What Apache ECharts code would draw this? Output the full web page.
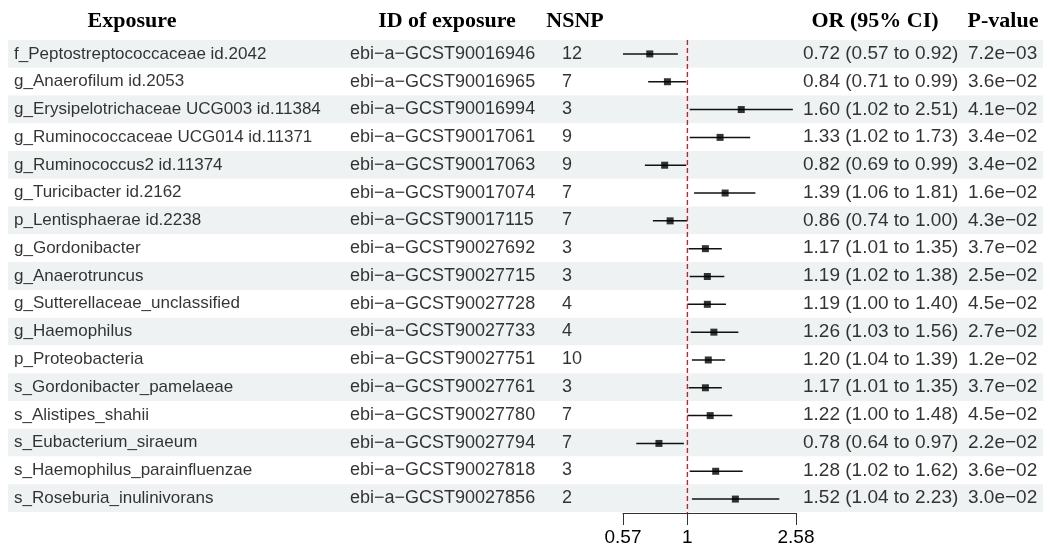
<!DOCTYPE html>
<html>
<head>
<meta charset="utf-8">
<script src="https://cdn.jsdelivr.net/npm/echarts@6/dist/echarts.min.js"></script>
<style>
  html, body { margin: 0; padding: 0; background: #fff; }
  #chart { width: 1051px; height: 548px; }
</style>
</head>
<body>
<div id="chart"></div>
<script>
const exposures = [
  'f_Peptostreptococcaceae id.2042',
  'g_Anaerofilum id.2053',
  'g_Erysipelotrichaceae UCG003 id.11384',
  'g_Ruminococcaceae UCG014 id.11371',
  'g_Ruminococcus2 id.11374',
  'g_Turicibacter id.2162',
  'p_Lentisphaerae id.2238',
  'g_Gordonibacter',
  'g_Anaerotruncus',
  'g_Sutterellaceae_unclassified',
  'g_Haemophilus',
  'p_Proteobacteria',
  's_Gordonibacter_pamelaeae',
  's_Alistipes_shahii',
  's_Eubacterium_siraeum',
  's_Haemophilus_parainfluenzae',
  's_Roseburia_inulinivorans'
]
const exposureIds = [
  'ebi−a−GCST90016946', 'ebi−a−GCST90016965', 'ebi−a−GCST90016994', 'ebi−a−GCST90017061',
  'ebi−a−GCST90017063', 'ebi−a−GCST90017074', 'ebi−a−GCST90017115', 'ebi−a−GCST90027692',
  'ebi−a−GCST90027715', 'ebi−a−GCST90027728', 'ebi−a−GCST90027733', 'ebi−a−GCST90027751',
  'ebi−a−GCST90027761', 'ebi−a−GCST90027780', 'ebi−a−GCST90027794', 'ebi−a−GCST90027818',
  'ebi−a−GCST90027856'
]
const nsnp = [12, 7, 3, 9, 9, 7, 7, 3, 3, 4, 4, 10, 3, 7, 7, 3, 2]
const orValues = [0.72, 0.84, 1.60, 1.33, 0.82, 1.39, 0.86, 1.17, 1.19, 1.19, 1.26, 1.20, 1.17, 1.22, 0.78, 1.28, 1.52]
const ciLow = [0.57, 0.71, 1.02, 1.02, 0.69, 1.06, 0.74, 1.01, 1.02, 1.00, 1.03, 1.04, 1.01, 1.00, 0.64, 1.02, 1.04]
const ciHigh = [0.92, 0.99, 2.51, 1.73, 0.99, 1.81, 1.00, 1.35, 1.38, 1.40, 1.56, 1.39, 1.35, 1.48, 0.97, 1.62, 2.23]
const pValues = [
  '7.2e−03', '3.6e−02', '4.1e−02', '3.4e−02', '3.4e−02', '1.6e−02', '4.3e−02', '3.7e−02',
  '2.5e−02', '4.5e−02', '2.7e−02', '1.2e−02', '3.7e−02', '4.5e−02', '2.2e−02', '3.6e−02', '3.0e−02'
]
const tickValues = [0.57, 1, 2.58]
const tickLabels = ['0.57', '1', '2.58']
const refValue = 1

const orText = orValues.map((v, i) =>
  `${v.toFixed(2)} (${ciLow[i].toFixed(2)} to ${ciHigh[i].toFixed(2)})`)

const textFont = 'Liberation Sans, Arial, sans-serif'
const headFont = 'Liberation Serif, Times New Roman, serif'

// text column: x is pixel position inside the full-width grid
function textColumn (x, texts, size) {
  return {
    type: 'scatter',
    xAxisIndex: 0,
    yAxisIndex: 0,
    symbolSize: 0,
    silent: true,
    data: texts.map((t, i) => [x, i]),
    label: {
      show: true,
      position: 'right',
      distance: 0,
      color: '#000',
      fontSize: size,
      fontFamily: textFont,
      formatter: p => texts[p.dataIndex]
    }
  }
}

function header (text, cx) {
  return {
    type: 'text',
    x: cx,
    y: 21,
    style: {
      text: text,
      align: 'center',
      verticalAlign: 'middle',
      fill: '#000',
      font: `bold 22px ${headFont}`
    }
  }
}

const chart = echarts.init(document.getElementById('chart'), null, { renderer: 'canvas' })
const logTicks = tickValues.map(v => Math.log(v))

chart.setOption({
  animation: false,
  backgroundColor: '#fff',
  grid: [
    { left: 8, right: 8, top: 40, bottom: 36 },
    { left: 623, right: 255, top: 40, bottom: 35 }
  ],
  xAxis: [
    { gridIndex: 0, type: 'value', min: 8, max: 1043, show: false },
    {
      gridIndex: 1,
      type: 'value',
      min: logTicks[0],
      max: logTicks[logTicks.length - 1],
      axisLine: { show: true, lineStyle: { color: '#333', width: 1 } },
      axisTick: { show: true, length: 12, customValues: logTicks, lineStyle: { color: '#333' } },
      axisLabel: {
        show: true,
        customValues: logTicks,
        margin: 15,
        color: '#000',
        fontSize: 19,
        fontFamily: textFont,
        formatter: v => {
          let best = 0
          logTicks.forEach((t, i) => { if (Math.abs(t - v) < Math.abs(logTicks[best] - v)) best = i })
          return tickLabels[best]
        }
      },
      splitLine: { show: false }
    }
  ],
  yAxis: [
    {
      gridIndex: 0,
      type: 'category',
      data: exposures,
      inverse: true,
      axisLine: { show: false },
      axisTick: { show: false, interval: 0 },
      axisLabel: { show: false, interval: 0 },
      splitLine: { show: false },
      splitArea: { show: true, interval: 0, areaStyle: { color: ['#eef2f2', '#ffffff'] } }
    },
    {
      gridIndex: 1,
      type: 'category',
      data: exposures,
      inverse: true,
      show: false
    }
  ],
  graphic: [
    header('Exposure', 132),
    header('ID of exposure', 447),
    header('NSNP', 575),
    header('OR (95% CI)', 875),
    header('P-value', 1003)
  ],
  series: [
    textColumn(14, exposures, 17),
    textColumn(350, exposureIds, 18),
    textColumn(562, nsnp.map(String), 18),
    textColumn(803, orText, 19),
    textColumn(968, pValues, 19),
    {
      // dashed reference line at OR = 1
      type: 'custom',
      xAxisIndex: 1,
      yAxisIndex: 1,
      silent: true,
      z: 3,
      data: [[Math.log(refValue)]],
      encode: { x: 0 },
      renderItem: (params, api) => {
        const cs = params.coordSys
        const x = api.coord([api.value(0), 0])[0]
        return {
          type: 'line',
          shape: { x1: x, y1: cs.y, x2: x, y2: cs.y + cs.height },
          style: { stroke: '#e8141b', lineWidth: 1.4, lineDash: [5, 3] }
        }
      }
    },
    {
      type: 'custom',
      xAxisIndex: 1,
      yAxisIndex: 1,
      silent: true,
      data: ciLow.map((lo, i) => [Math.log(lo), Math.log(ciHigh[i]), i]),
      encode: { x: [0, 1], y: 2 },
      renderItem: (params, api) => {
        const a = api.coord([api.value(0), api.value(2)])
        const b = api.coord([api.value(1), api.value(2)])
        return {
          type: 'line',
          shape: { x1: a[0], y1: a[1], x2: b[0], y2: b[1] },
          style: { stroke: '#111', lineWidth: 1.5 }
        }
      }
    },
    {
      type: 'scatter',
      xAxisIndex: 1,
      yAxisIndex: 1,
      symbol: 'rect',
      symbolSize: 7,
      silent: true,
      itemStyle: { color: '#000' },
      data: orValues.map((v, i) => [Math.log(v), i])
    }
  ]
})
</script>
</body>
</html>
